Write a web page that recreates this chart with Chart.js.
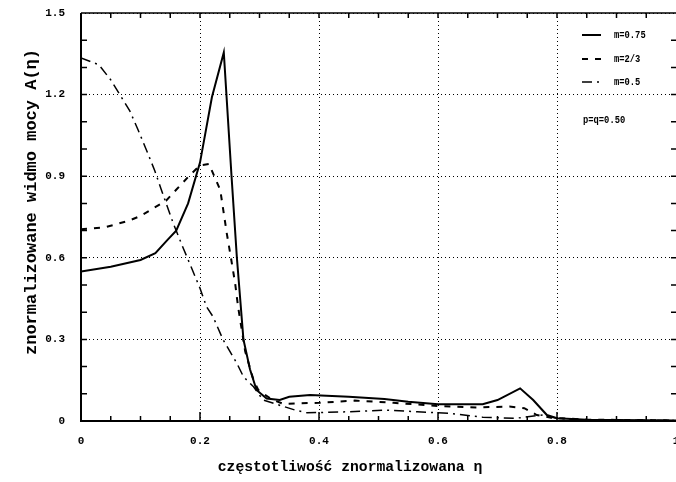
<!DOCTYPE html>
<html>
<head>
<meta charset="utf-8">
<script src="https://cdn.jsdelivr.net/npm/chart.js@4"></script>
<style>
  body { margin: 0; background: #fff; }
  #wrap { width: 676px; height: 482px; }
</style>
</head>
<body>
<div id="wrap"><canvas id="spectrumChart" width="676" height="482"></canvas></div>
<script>
// m = 0.75 (solid)
const etaA  = [0, 0.05, 0.1, 0.125, 0.145, 0.16, 0.18, 0.2, 0.22, 0.24, 0.253, 0.262, 0.273, 0.284, 0.295, 0.312, 0.334, 0.35, 0.385, 0.45, 0.51, 0.55, 0.6, 0.675, 0.7, 0.738, 0.76, 0.783, 0.8, 0.85, 0.9, 0.95, 1];
const specA = [0.55, 0.567, 0.592, 0.617, 0.665, 0.70, 0.80, 0.95, 1.19, 1.355, 0.90, 0.60, 0.30, 0.19, 0.114, 0.083, 0.077, 0.089, 0.096, 0.089, 0.081, 0.071, 0.062, 0.062, 0.077, 0.12, 0.077, 0.022, 0.01, 0.005, 0.004, 0.003, 0.002];

// m = 2/3 (dashed)
const etaB  = [0, 0.04, 0.08, 0.1, 0.12, 0.143, 0.16, 0.183, 0.2, 0.215, 0.234, 0.245, 0.252, 0.259, 0.264, 0.276, 0.29, 0.298, 0.32, 0.34, 0.4, 0.46, 0.525, 0.6, 0.665, 0.72, 0.745, 0.766, 0.79, 0.85, 0.9, 1];
const specB = [0.705, 0.712, 0.736, 0.754, 0.78, 0.81, 0.85, 0.904, 0.94, 0.945, 0.85, 0.69, 0.60, 0.507, 0.42, 0.255, 0.15, 0.114, 0.08, 0.063, 0.067, 0.075, 0.067, 0.055, 0.05, 0.053, 0.047, 0.022, 0.012, 0.005, 0.004, 0.002];

// m = 0.5 (dash-dot)
const etaC  = [0, 0.03, 0.05, 0.068, 0.082, 0.096, 0.113, 0.124, 0.135, 0.155, 0.171, 0.185, 0.2, 0.211, 0.222, 0.239, 0.262, 0.273, 0.29, 0.306, 0.36, 0.38, 0.45, 0.51, 0.565, 0.62, 0.675, 0.73, 0.776, 0.8, 0.85, 0.9, 1];
const specC = [1.335, 1.31, 1.254, 1.19, 1.14, 1.07, 0.98, 0.92, 0.85, 0.727, 0.64, 0.567, 0.488, 0.42, 0.383, 0.298, 0.212, 0.163, 0.126, 0.077, 0.04, 0.03, 0.034, 0.04, 0.034, 0.028, 0.014, 0.01, 0.022, 0.01, 0.004, 0.003, 0.002];

const seriesLabels = ['m=0.75', 'm=2/3', 'm=0.5'];
const paramLabel = 'p=q=0.50';
const xTicks = [0, 0.2, 0.4, 0.6, 0.8, 1];
const xTickLabels = ['0', '0.2', '0.4', '0.6', '0.8', '1'];
const yTicks = [0, 0.3, 0.6, 0.9, 1.2, 1.5];
const yTickLabels = ['0', '0.3', '0.6', '0.9', '1.2', '1.5'];
const xTitle = 'częstotliwość znormalizowana η';
const yTitle = 'znormalizowane widmo mocy A(η)';

const toPoints = (xs, ys) => xs.map((v, i) => ({ x: v, y: ys[i] }));
const pickLabel = (ticks, labels, v) => {
  const i = ticks.findIndex(t => Math.abs(t - v) < 1e-6);
  return i < 0 ? '' : labels[i];
};

const MONO = '"Liberation Mono", "DejaVu Sans Mono", monospace';

// frame, inward ticks, titles and the little legend
const decorations = {
  id: 'decorations',
  afterDraw(chart) {
    const { ctx, chartArea: a, scales: { x, y } } = chart;
    ctx.save();
    ctx.strokeStyle = '#000';
    ctx.fillStyle = '#000';
    ctx.setLineDash([]);

    ctx.lineWidth = 2;
    ctx.beginPath();
    ctx.moveTo(a.left, a.top);
    ctx.lineTo(a.left, a.bottom);
    ctx.lineTo(a.right, a.bottom);
    ctx.stroke();
    ctx.lineWidth = 1.5;
    ctx.beginPath();
    ctx.moveTo(a.left, a.top);
    ctx.lineTo(a.right, a.top);
    ctx.stroke();

    ctx.lineWidth = 1.5;
    ctx.beginPath();
    for (let i = 1; i < 20; i++) {
      const px = x.getPixelForValue(i * 0.05);
      const len = i % 4 === 0 ? 9 : 5;
      ctx.moveTo(px, a.bottom);
      ctx.lineTo(px, a.bottom - len);
      ctx.moveTo(px, a.top);
      ctx.lineTo(px, a.top + 5);
    }
    for (let i = 1; i < 15; i++) {
      const py = y.getPixelForValue(i * 0.1);
      ctx.moveTo(a.left, py);
      ctx.lineTo(a.left + 6, py);
      ctx.moveTo(a.right, py);
      ctx.lineTo(a.right - 5, py);
    }
    ctx.stroke();

    // axis titles
    ctx.textAlign = 'center';
    ctx.textBaseline = 'middle';
    ctx.font = 'bold 14.7px ' + MONO;
    ctx.fillText(xTitle, 350, 467);
    ctx.save();
    ctx.translate(32, 202);
    ctx.rotate(-Math.PI / 2);
    ctx.font = 'bold 17px ' + MONO;
    ctx.fillText(yTitle, 0, 0);
    ctx.restore();

    // legend
    ctx.textAlign = 'left';
    ctx.font = 'bold 11px ' + MONO;
    const rows = [35, 59, 82];
    chart.data.datasets.forEach((ds, i) => {
      ctx.lineWidth = ds.borderWidth;
      ctx.setLineDash(ds.borderDash || []);
      ctx.beginPath();
      ctx.moveTo(582, rows[i]);
      ctx.lineTo(601, rows[i]);
      ctx.stroke();
      ctx.save();
      ctx.translate(614, rows[i]);
      ctx.scale(0.8, 1);
      ctx.fillText(ds.label, 0, 0);
      ctx.restore();
    });
    ctx.save();
    ctx.translate(583, 120);
    ctx.scale(0.8, 1);
    ctx.fillText(paramLabel, 0, 0);
    ctx.restore();

    ctx.restore();
  }
};

new Chart(document.getElementById('spectrumChart'), {
  type: 'line',
  data: {
    datasets: [
      {
        label: seriesLabels[0],
        data: toPoints(etaA, specA),
        borderColor: '#000',
        borderWidth: 2,
        borderDash: []
      },
      {
        label: seriesLabels[1],
        data: toPoints(etaB, specB),
        borderColor: '#000',
        borderWidth: 2,
        borderDash: [6, 7]
      },
      {
        label: seriesLabels[2],
        data: toPoints(etaC, specC),
        borderColor: '#000',
        borderWidth: 1.5,
        borderDash: [10, 5, 2, 5]
      }
    ]
  },
  options: {
    responsive: false,
    animation: false,
    events: [],
    layout: { padding: { top: 13, right: 0, left: 0, bottom: 0 } },
    elements: {
      point: { radius: 0 },
      line: { tension: 0, fill: false }
    },
    plugins: {
      legend: { display: false },
      tooltip: { enabled: false }
    },
    scales: {
      x: {
        type: 'linear',
        min: 0,
        max: 1,
        afterBuildTicks: s => { s.ticks = xTicks.map(v => ({ value: v })); },
        afterFit: s => { s.height = 61; s.paddingLeft = 0; s.paddingRight = 0; },
        ticks: {
          color: '#000',
          padding: 14,
          font: { family: MONO, size: 11, weight: 'bold' },
          callback: v => pickLabel(xTicks, xTickLabels, v)
        },
        grid: {
          color: c => (c.tick && c.tick.value >= 1 ? 'rgba(0,0,0,0)' : '#000'),
          lineWidth: 1,
          drawTicks: false
        },
        border: { display: false, dash: [1, 3] }
      },
      y: {
        type: 'linear',
        min: 0,
        max: 1.5,
        afterBuildTicks: s => { s.ticks = yTicks.map(v => ({ value: v })); },
        afterFit: s => { s.width = 81; s.paddingTop = 0; s.paddingBottom = 0; },
        ticks: {
          color: '#000',
          padding: 16,
          font: { family: MONO, size: 11, weight: 'bold' },
          callback: v => pickLabel(yTicks, yTickLabels, v)
        },
        grid: { color: '#000', lineWidth: 1, drawTicks: false },
        border: { display: false, dash: [1, 3] }
      }
    }
  },
  plugins: [decorations]
});
</script>
</body>
</html>
